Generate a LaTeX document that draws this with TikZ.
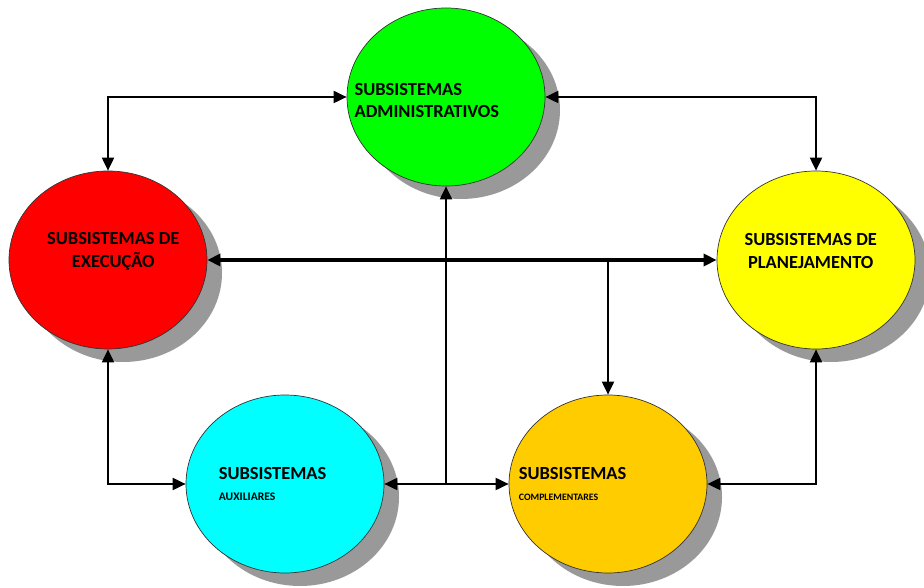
\documentclass[tikz,border=0pt]{standalone}
\usepackage{fontspec}
\setmainfont{Carlito}
\usetikzlibrary{arrows.meta,shapes.geometric,shadows}

\definecolor{cgreen}{HTML}{00FF00}
\definecolor{cred}{HTML}{FF0000}
\definecolor{cyel}{HTML}{FFFF00}
\definecolor{ccyan}{HTML}{00FFFF}
\definecolor{corange}{HTML}{FFCC00}

\begin{document}
\begin{tikzpicture}[tx/.style={font=\bfseries\fontsize{10.5}{13}\selectfont,align=left},sub/.style={ellipse,draw=black!80,thin,minimum width=3.96cm,minimum height=3.56cm,inner sep=0pt,drop shadow={shadow xshift=.3cm,shadow yshift=-.26cm,fill=black!40,opacity=1},tx,align=center},a/.style={{Triangle[length=2.6mm,width=2.4mm]}-{Triangle[length=2.6mm,width=2.4mm]},line width=1.1pt},e/.style={-{Triangle[length=2.6mm,width=2.4mm]},line width=1.1pt}]
\useasboundingbox (0,0) rectangle (18.48,-11.76);
\node[sub,fill=cgreen,label={[tx,anchor=west,xshift=1pt,yshift=-2pt]west:SUBSISTEMAS\\ADMINISTRATIVOS}] (adm) at (8.92,-1.94) {};
\node[sub,fill=cred,label={[tx,align=center,xshift=3pt,yshift=5pt]center:SUBSISTEMAS DE\\EXECUÇÃO}] (exe) at (2.16,-5.2) {};
\node[sub,fill=cyel,label={[tx,align=center,xshift=-3pt,yshift=5pt]center:SUBSISTEMAS DE\\PLANEJAMENTO}] (pla) at (16.32,-5.2) {};
\node[sub,fill=ccyan,label={[tx,anchor=west,xshift=.54cm]west:SUBSISTEMAS\\[-1pt]{\fontsize{6.6}{8}\selectfont AUXILIARES}}] (aux) at (5.7,-9.68) {};
\node[sub,fill=corange,label={[tx,anchor=west,xshift=.08cm]west:SUBSISTEMAS\\[-1pt]{\fontsize{5.6}{7}\selectfont COMPLEMENTARES}}] (com) at (12.16,-9.68) {};
\coordinate (j) at (adm.south |- aux.east);
\coordinate (t) at (com.north |- exe.east);
% ligacoes
\draw[a] (exe.north) |- (adm.west);
\draw[a] (adm.east) -| (pla.north);
\draw[a,line width=2.6pt] (exe.east) -- (pla.west);
\draw[e] (t) -- (com.north);
\draw[e] (j) -- (adm.south);
\draw[e] (j) -- (aux.east);
\draw[e] (j) -- (com.west);
\draw[a] (exe.south) |- (aux.west);
\draw[a] (pla.south) |- (com.east);
\end{tikzpicture}
\end{document}
